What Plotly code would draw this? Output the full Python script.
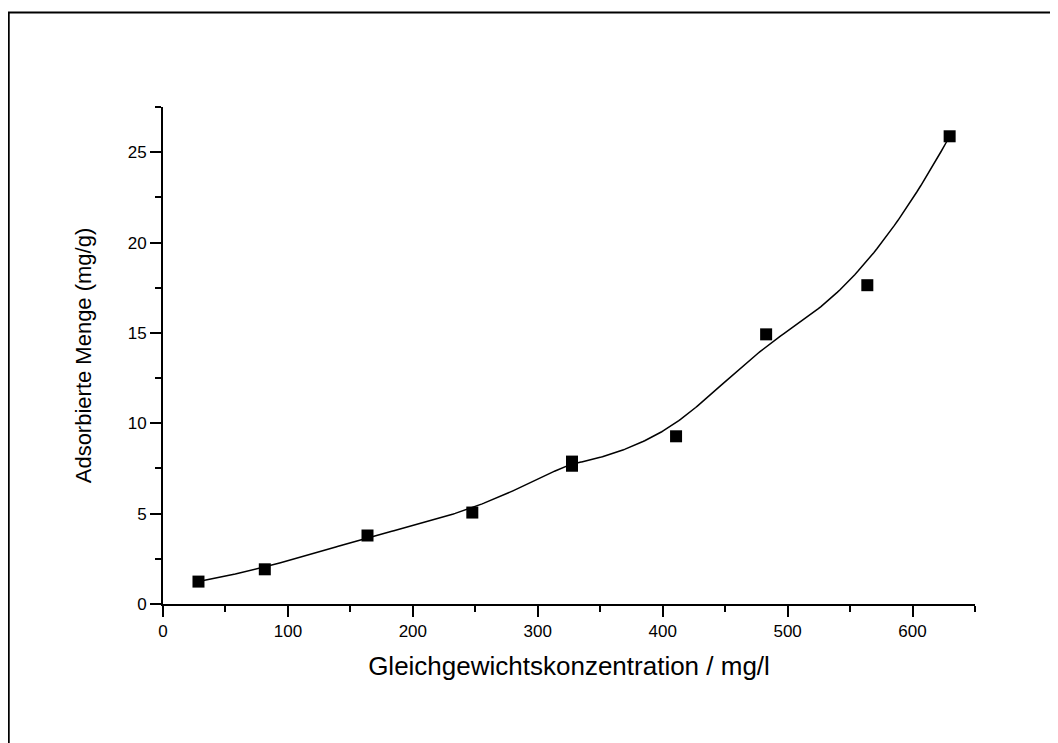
import numpy as np
import plotly.graph_objects as go

# Data
conc = [28.4, 81.5, 163.7, 247.6, 327.4, 327.4, 410.7, 482.8, 563.8, 629.7]
amount = [1.24, 1.92, 3.79, 5.06, 7.88, 7.65, 9.28, 14.92, 17.64, 25.88]

x_ticks = [0, 100, 200, 300, 400, 500, 600]
y_ticks = [0, 5, 10, 15, 20, 25]


def bspline(px, py, degree=3, n=400):
    """Clamped uniform B-spline using the data points as control points."""
    P = np.column_stack([px, py])
    m = len(P)
    inner = np.arange(1, m - degree) / (m - degree)
    knots = np.concatenate([np.zeros(degree + 1), inner, np.ones(degree + 1)])
    ts = np.linspace(0, 1, n)
    out = []
    for t in ts:
        if t >= 1.0:
            out.append(P[-1])
            continue
        k = np.searchsorted(knots, t, side="right") - 1
        d = [P[j + k - degree].copy() for j in range(degree + 1)]
        for r in range(1, degree + 1):
            for j in range(degree, r - 1, -1):
                i = j + k - degree
                a = (t - knots[i]) / (knots[i + 1 + degree - r] - knots[i])
                d[j] = (1 - a) * d[j - 1] + a * d[j]
        out.append(d[degree])
    out = np.array(out)
    return out[:, 0], out[:, 1]


cx, cy = bspline(conc, amount)

fig = go.Figure()
fig.add_trace(go.Scatter(x=cx, y=cy, mode="lines",
                         line=dict(color="black", width=1.5),
                         hoverinfo="skip", showlegend=False))
fig.add_trace(go.Scatter(x=conc, y=amount, mode="markers",
                         marker=dict(symbol="square", size=12, color="black",
                                     line=dict(width=0)),
                         showlegend=False))

axis_common = dict(
    showline=True, linecolor="black", linewidth=2,
    ticks="outside", ticklen=11, tickwidth=2, tickcolor="black",
    showgrid=False, zeroline=False, mirror=False,
    tickfont=dict(family="Liberation Sans, Arial", size=17, color="black"),
)

fig.update_xaxes(
    range=[0, 650], tickvals=x_ticks,
    minor=dict(ticks="outside", ticklen=6, tickwidth=2, tickcolor="black", dtick=50),
    title=dict(text="Gleichgewichtskonzentration / mg/l",
               font=dict(family="Liberation Sans, Arial", size=26, color="black"),
               standoff=16),
    **axis_common,
)
fig.update_yaxes(
    range=[0, 27.5], tickvals=y_ticks,
    minor=dict(ticks="outside", ticklen=6, tickwidth=2, tickcolor="black", dtick=2.5),
    title=dict(text="Adsorbierte Menge (mg/g)",
               font=dict(family="Liberation Sans, Arial", size=22, color="black"),
               standoff=30),
    **axis_common,
)

fig.add_shape(type="rect", xref="paper", yref="paper",
              x0=-0.190, x1=1.3, y0=-0.5, y1=1.190,
              line=dict(color="black", width=2), layer="below")

fig.update_layout(
    width=1058, height=743,
    margin=dict(l=155, r=91, t=99, b=147),
    paper_bgcolor="white", plot_bgcolor="white",
    showlegend=False,
)

fig.write_html("out.html")
